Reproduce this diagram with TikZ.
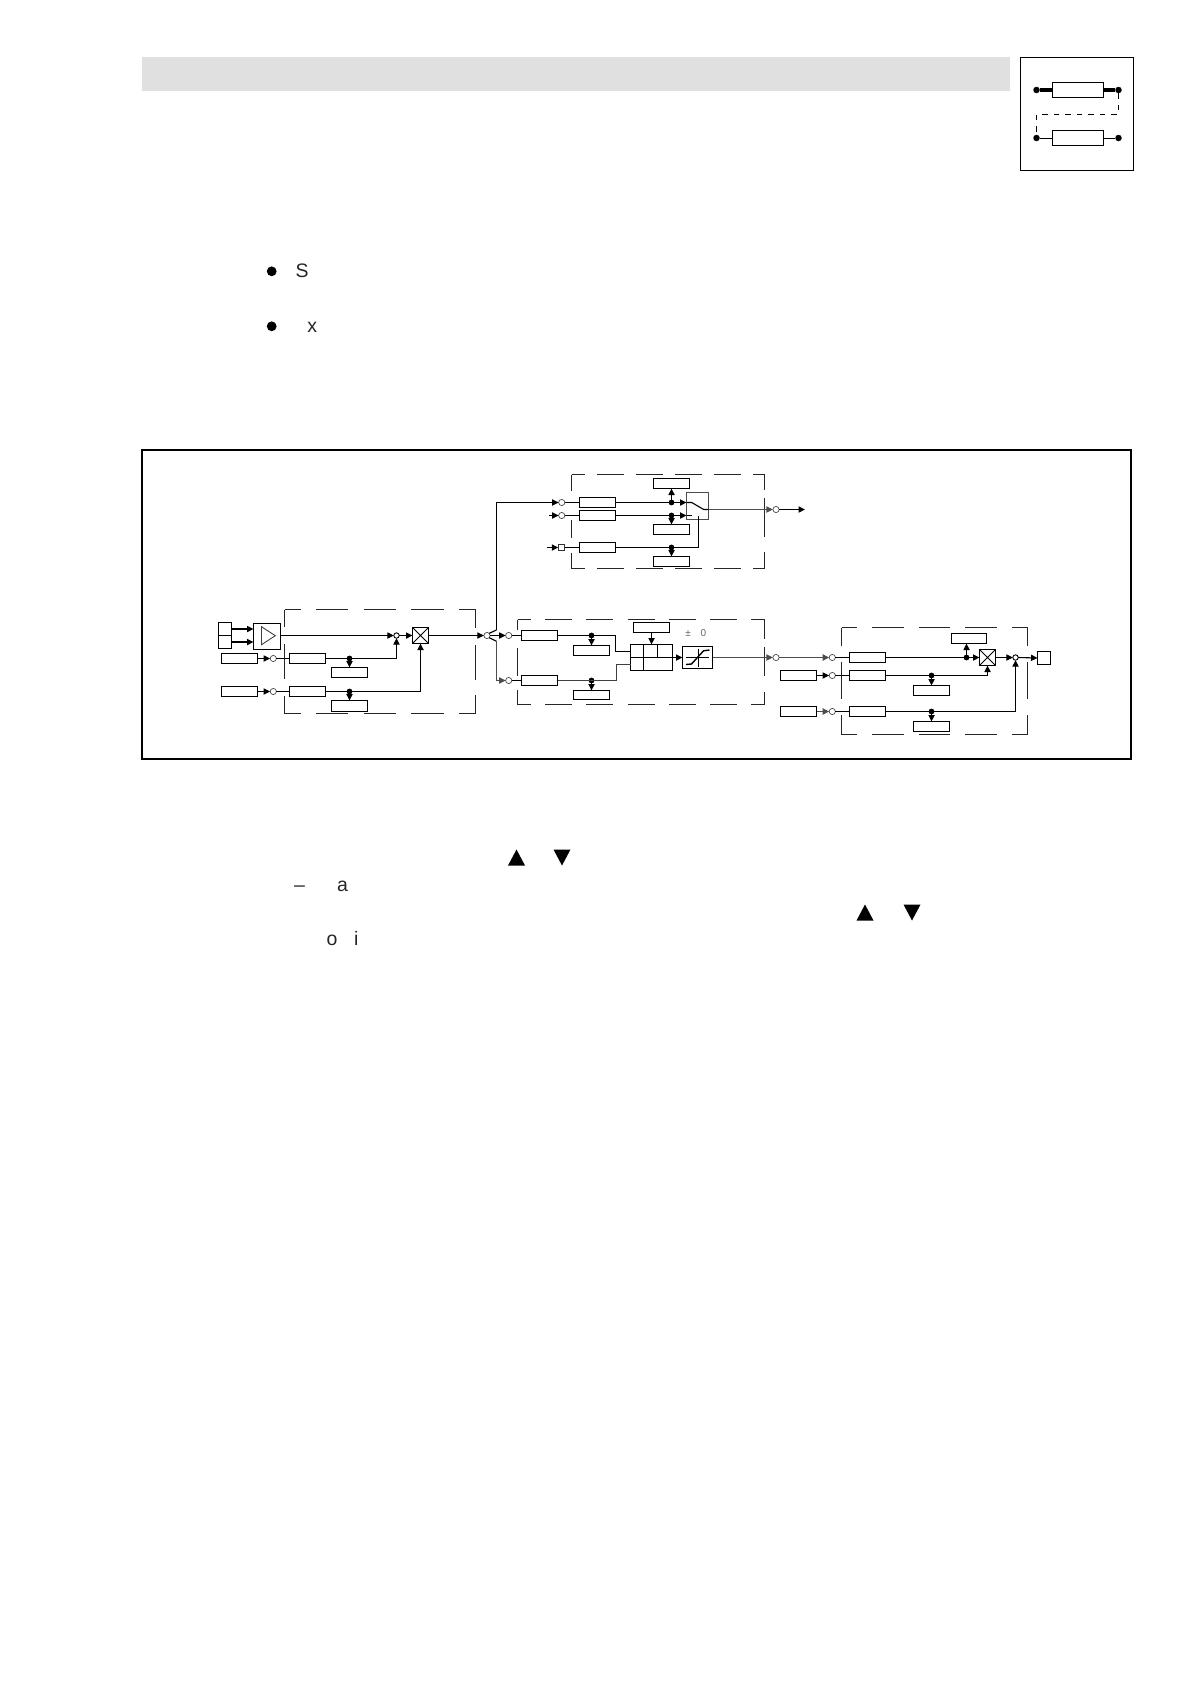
\documentclass[tikz,border=0pt]{standalone}
\usepackage{fontspec}
\setmainfont{Liberation Sans}
\usetikzlibrary{arrows.meta}
\tikzset{
  blk/.style={draw,line width=1.1pt,inner sep=0pt,outer sep=0pt,fill=white},
  circ/.style={circle,draw=black!70,line width=.7pt,inner sep=0pt,outer sep=0pt,minimum size=6.2pt,fill=white},
  sumc/.style={circle,draw=black,line width=.9pt,inner sep=0pt,outer sep=0pt,minimum size=5.4pt,fill=white},
  jdot/.style={circle,fill=black,inner sep=0pt,outer sep=0pt,minimum size=5.8pt},
  wire/.style={line width=1.1pt},
  arr/.style={line width=1.1pt,-{Triangle[length=6.5pt,width=6.2pt]}},
  gwire/.style={line width=1.3pt,-{Triangle[length=6.5pt,width=6.2pt]},black!70},
  dsh/.style={line width=1pt,black!85},
  tri/.style={fill=black,draw=none},
  txt/.style={inner sep=0pt,outer sep=0pt,anchor=base west,font=\fontsize{19.5}{22}\selectfont,text=black!85},
  small/.style={inner sep=0pt,outer sep=0pt,font=\fontsize{10}{11}\selectfont,text=black!60},
}
\newcommand{\bx}[6][]{\node[blk,#1,minimum width={(#5)-(#3)},minimum height={(#6)-(#4)}] (#2) at ({((#3)+(#5))/2},{((#4)+(#6))/2}) {};}
% \hdash{on}{off}{x1}{x2}{y}
\newcommand{\hdash}[5]{\draw[dsh,dash pattern=on #1pt off #2pt,dash phase={(#1)/2}] (#3,#5) -- (#4,#5);}
\newcommand{\crossbox}[1]{\draw[line width=.8pt] (#1.north west) -- (#1.south east) (#1.north east) -- (#1.south west);}
\begin{document}
\begin{tikzpicture}[x=1pt,y=-1pt]
\useasboundingbox (0,0) rectangle (1190,1684);
\fill[white] (0,0) rectangle (1190,1684);
% header bar
\fill[black!12] (142,57) rectangle (1009.5,91);
% icon
\draw[line width=1pt] (1020.5,57.5) rectangle (1133.5,170.5);
\bx{ic1}{1052.5}{82.5}{1103.5}{97.5}
\bx{ic2}{1052.5}{130.5}{1103.5}{145.5}
\node[jdot,minimum size=6.5pt] (icd1) at (1036.5,90) {};
\node[jdot,minimum size=6.5pt] (icd2) at (1118.5,90) {};
\node[jdot,minimum size=6.5pt] (icd3) at (1036.5,138) {};
\node[jdot,minimum size=6.5pt] (icd4) at (1118.5,138) {};
\draw[line width=4.5pt] (icd1) -- (ic1) (ic1) -- (icd2);
\draw[line width=.9pt] (icd3) -- (ic2) (ic2) -- (icd4);
\draw[line width=.8pt,dash pattern=on 5.5pt off 6pt] (icd2) |- (1036.5,114.5) -- (icd3);
% bullets and letters
\fill (271.7,271.3) circle (4.9);
\fill (271.7,326.3) circle (4.9);
\node[txt] (tS) at (295.5,277.5) {S};
\node[txt] (tx) at (307.3,332) {x};
\node[txt] (tdash) at (294,891) {–};
\node[txt] (ta) at (337,891) {a};
\node[txt] (to) at (326.5,945) {o};
\node[txt] (ti) at (354,945) {i};
\fill[tri] (508,865.5) -- (516.5,849.5) -- (525,865.5) -- cycle;
\fill[tri] (553.5,849.5) -- (562,865.5) -- (570.5,849.5) -- cycle;
\fill[tri] (856.5,920.5) -- (865,904.5) -- (873.5,920.5) -- cycle;
\fill[tri] (903.5,904.5) -- (912,920.5) -- (920.5,904.5) -- cycle;
% outer frame
\draw[line width=2pt] (142,450) rectangle (1131,759);

% ---- dashed groups
\hdash{32.3}{15.4}{284.5}{475.5}{609.5}\hdash{32.3}{15.4}{284.5}{475.5}{713.5}
\draw[dsh] (284.5,609.5) -- (284.5,627) (284.5,644) -- (284.5,679) (284.5,696) -- (284.5,713.5);
\draw[dsh] (475.5,609.5) -- (475.5,628) (475.5,645) -- (475.5,680) (475.5,695) -- (475.5,713.5);
\hdash{27}{12}{571.5}{764.5}{474.5}\hdash{27}{12}{571.5}{764.5}{568.5}
\draw[dsh] (571.5,474.5) -- (571.5,491) (571.5,520) -- (571.5,538) (571.5,552.7) -- (571.5,568.5);
\draw[dsh] (764.5,474.5) -- (764.5,490) (764.5,498.3) -- (764.5,536.7) (764.5,551.7) -- (764.5,568.5);
\hdash{27}{14.2}{517.5}{764.5}{619.5}\hdash{27}{14.2}{517.5}{764.5}{704.5}
\draw[dsh] (517.5,619.5) -- (517.5,630) (517.5,647.7) -- (517.5,676) (517.5,690) -- (517.5,704.5);
\draw[dsh] (764.5,619.5) -- (764.5,639) (764.5,647) -- (764.5,676) (764.5,692) -- (764.5,704.5);
\hdash{31.5}{15}{841.5}{1027.5}{627.5}\hdash{31.5}{15}{841.5}{1027.5}{734.5}
\draw[dsh] (841.5,627.5) -- (841.5,645.7) (841.5,661.7) -- (841.5,699) (841.5,715) -- (841.5,734.5);
\draw[dsh] (1027.5,627.5) -- (1027.5,645.7) (1027.5,661.7) -- (1027.5,699) (1027.5,715) -- (1027.5,734.5);

% ---- left section
\bx{in1}{218.5}{622.5}{231.5}{635.5}
\bx{in2}{218.5}{635.5}{231.5}{648.5}
\bx{amp}{253.5}{623.5}{280.5}{649.5}
\draw[line width=.9pt,draw=black!75] (261.5,626.7) -- (261.5,644.7) -- (275.3,635.7) -- cycle;
\draw[arr] (in1.east) -- (in1.east -| amp.west);
\draw[arr] (in2.east) -- (in2.east -| amp.west);
\bx{a1}{221.5}{653.5}{257.5}{663.5}
\bx{a2}{221.5}{686.5}{257.5}{696.5}
\node[circ] (ca1) at (273.3,658.5) {};
\node[circ] (ca2) at (273.3,691.5) {};
\bx{a3}{289.5}{653.5}{325.5}{663.5}
\bx{a4}{289.5}{686.5}{325.5}{696.5}
\bx{a5}{331.5}{667.5}{367.5}{677.5}
\bx{a6}{331.5}{700.5}{367.5}{711.5}
\node[jdot] (da1) at (349.5,658.5) {};
\node[jdot] (da2) at (349.5,691.5) {};
\node[sumc] (sa) at (396.5,635.5) {};
\bx[line width=1.3pt]{xa}{412.5}{627.5}{428.5}{643.5}
\crossbox{xa}
\draw[arr] (a1.east) -- (ca1.west);
\draw[arr] (a2.east) -- (ca2.west);
\draw[wire] (ca1.east) -- (a3.west);
\draw[wire] (ca2.east) -- (a4.west);
\draw[arr] (da1) -- (a5.north);
\draw[arr] (da2) -- (a6.north);
\draw[arr] (a3.east) -| (sa.south);
\draw[arr] (a4.east) -| (xa.south);
\draw[arr] (amp.east |- sa) -- (sa.west);
\draw[arr] (sa.east) -- (xa.west);
\node[circ] (fk) at (487,635.5) {};
\draw[arr] (xa.east) -- (fk.west);

% ---- upper section
\coordinate (fu) at (496.5,630);
\coordinate (fd) at (496.5,641.3);
\node[circ] (cu1) at (561.7,502.5) {};
\node[circ] (cu2) at (561.7,515.5) {};
\node[blk,draw=black!80,line width=.9pt,minimum size=6.5pt] (su3) at (561.5,547.5) {};
\coordinate (iu2) at (549,515.5);
\coordinate (iu3) at (546.7,547.5);
\draw[wire] (fk.north east) -- (fu);
\draw[arr] (fu) |- (cu1.west);
\draw[arr] (iu2) -- (cu2.west);
\draw[arr] (iu3) -- (su3.west);
\bx{u1}{579.5}{497.5}{615.5}{507.5}
\bx{u2}{579.5}{510.5}{615.5}{520.5}
\bx{u3}{579.5}{542.5}{615.5}{552.5}
\draw[wire] (cu1.east) -- (u1.west);
\draw[wire] (cu2.east) -- (u2.west);
\draw[wire] (su3.east) -- (u3.west);
\bx{u4}{653.5}{478.5}{689.5}{488.5}
\bx{u5}{653.5}{524.5}{689.5}{534.5}
\bx{u6}{653.5}{556.5}{689.5}{566.5}
\node[jdot] (du1) at (671.5,502.5) {};
\node[jdot] (du2) at (671.5,515.5) {};
\node[jdot] (du3) at (671.5,547.5) {};
\draw[arr] (du1) -- (u4.south);
\draw[arr] (du2) -- (u5.north);
\draw[arr] (du3) -- (u6.north);
\bx[draw=black!70,line width=1.3pt]{sw}{686.5}{492.5}{708.5}{519.5}
\draw[arr] (u1.east) -- (u1.east -| sw.west);
\draw[arr] (u2.east) -- (u2.east -| sw.west);
\coordinate (sw1) at (691.7,502.5);
\coordinate (sw2) at (703.7,509.5);
\coordinate (sw3) at (691.7,515.5);
\draw[wire] (sw.west |- sw1) -- (sw1) -- (sw2) -- (sw2 -| sw.east);
\draw[wire] (sw.west |- sw3) -- (sw3);
\coordinate (swc) at (698.5,516);
\draw[wire] (u3.east) -| (swc);
\node[circ] (co) at (776,509.5) {};
\coordinate (oo) at (805,509.5);
\draw[gwire] (sw2 -| sw.east) -- (co.west);
\draw[arr] (co.east) -- (oo);

% ---- middle section
\node[circ] (cm1) at (508.7,635.5) {};
\node[circ] (cm2) at (508.7,680.5) {};
\draw[arr] (fk.east) -- (cm1.west);
\draw[wire] (fk.south east) -- (fd);
\draw[gwire] (fd) |- (cm2.west);
\bx{m1}{521.5}{630.5}{557.5}{640.5}
\bx{m2}{521.5}{675.5}{557.5}{685.5}
\draw[wire] (cm1.east) -- (m1.west);
\draw[wire] (cm2.east) -- (m2.west);
\bx{m3}{573.5}{645.5}{609.5}{655.5}
\bx{m4}{573.5}{690.5}{609.5}{699.5}
\node[jdot] (dm1) at (591.5,635.5) {};
\node[jdot] (dm2) at (591.5,680.5) {};
\draw[arr] (dm1) -- (m3.north);
\draw[arr] (dm2) -- (m4.north);
\bx{tb}{630.5}{644.5}{672.5}{670.5}
\draw[wire] (643.5,644.5) -- (643.5,670.5) (630.5,657.5) -- (672.5,657.5) (657.5,644.5) -- (657.5,657.5);
\bx{m5}{633.5}{622.5}{669.5}{632.5}
\draw[arr] (m5.south) -- (tb.north);
\coordinate (tbi1) at (630.5,651.5);
\coordinate (tbi2) at (630.5,664.5);
\draw[wire] (m1.east) -- (615.5,635.5) -- (615.5,651.5) -- (tbi1);
\draw[wire,black!75] (m2.east) -- (616.5,680.5) -- (616.5,664.5) -- (tbi2);
\bx{lim}{682.5}{646.5}{712.5}{668.5}
\draw[arr] (tb.east) -- (lim.west);
\draw[line width=.9pt] (698.5,648.5) -- (698.5,666.5) (686,657.5) -- (709,657.5);
\draw[line width=1.4pt] (686,664.5) -- (691.5,664) -- (703.5,650.8) -- (709.5,650);
\node[small] (pm) at (688,633.3) {±};
\node[small] (zr) at (703.3,633.3) {0};
\node[circ] (cl) at (776,657.5) {};
\draw[gwire] (lim.east) -- (cl.west);

% ---- right section
\node[circ] (cr1) at (832.3,657.5) {};
\node[circ] (cr2) at (832.3,675.5) {};
\node[circ] (cr3) at (832.3,711.5) {};
\draw[gwire] (cl.east) -- (cr1.west);
\bx{r1}{780.5}{670.5}{816.5}{680.5}
\bx{r2}{780.5}{706.5}{816.5}{716.5}
\draw[arr] (r1.east) -- (cr2.west);
\draw[gwire] (r2.east) -- (cr3.west);
\bx{r3}{849.5}{652.5}{885.5}{662.5}
\bx{r4}{849.5}{670.5}{885.5}{680.5}
\bx{r5}{849.5}{706.5}{885.5}{716.5}
\draw[wire] (cr1.east) -- (r3.west);
\draw[wire] (cr2.east) -- (r4.west);
\draw[wire] (cr3.east) -- (r5.west);
\bx[line width=1.3pt]{xr}{979.5}{649.5}{995.5}{665.5}
\crossbox{xr}
\node[jdot] (dr1) at (966.5,657.5) {};
\node[jdot] (dr2) at (931.5,675.5) {};
\node[jdot] (dr3) at (931.5,711.5) {};
\bx{r6}{951.5}{633.5}{986.5}{643.5}
\bx{r7}{913.5}{685.5}{949.5}{695.5}
\bx{r8}{913.5}{721.5}{949.5}{731.5}
\draw[wire] (r3.east) -- (dr1);
\draw[arr] (dr1) -- (xr.west);
\draw[arr] (dr1) -- (dr1 |- r6.south);
\draw[arr] (dr2) -- (r7.north);
\draw[arr] (dr3) -- (r8.north);
\node[sumc] (sr) at (1015.5,657.5) {};
\draw[arr] (r4.east) -| (xr.south);
\draw[arr] (r5.east) -| (sr.south);
\draw[arr] (xr.east) -- (sr.west);
\bx{rout}{1037.5}{651.5}{1050.5}{664.5}
\draw[arr] (sr.east) -- (rout.west);
\end{tikzpicture}
\end{document}
